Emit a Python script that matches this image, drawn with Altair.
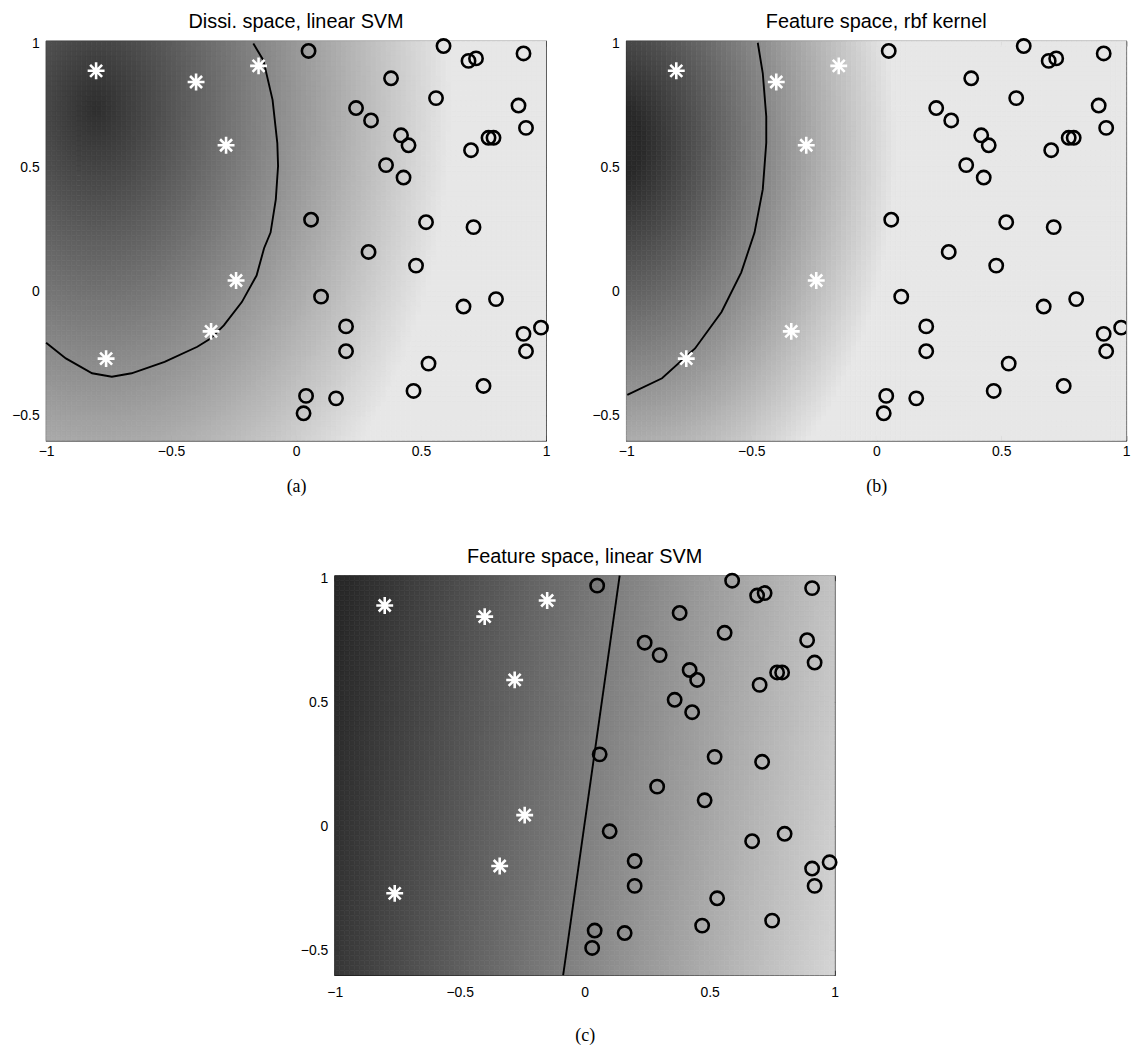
import altair as alt
import numpy as np
import pandas as pd

# ---------------- data ----------------
star_x = [-0.80, -0.40, -0.15, -0.28, -0.24, -0.34, -0.76]
star_y = [0.89, 0.845, 0.91, 0.59, 0.045, -0.16, -0.27]

circ_x = [0.05, 0.59, 0.69, 0.72, 0.91, 0.38, 0.56, 0.24, 0.30, 0.89, 0.92, 0.42, 0.45,
          0.77, 0.79, 0.70, 0.36, 0.43, 0.06, 0.52, 0.71, 0.29, 0.48, 0.10, 0.67, 0.80,
          0.20, 0.91, 0.98, 0.20, 0.92, 0.53, 0.75, 0.47, 0.04, 0.16, 0.03]
circ_y = [0.97, 0.99, 0.93, 0.94, 0.96, 0.86, 0.78, 0.74, 0.69, 0.75, 0.66, 0.63, 0.59,
          0.62, 0.62, 0.57, 0.51, 0.46, 0.29, 0.28, 0.26, 0.16, 0.105, -0.02, -0.06, -0.03,
          -0.14, -0.17, -0.145, -0.24, -0.24, -0.29, -0.38, -0.40, -0.42, -0.43, -0.49]

# decision boundaries
bnd_a_x = [-0.171, -0.131, -0.094, -0.075, -0.072, -0.081, -0.102, -0.128, -0.158, -0.217,
           -0.289, -0.342, -0.395, -0.526, -0.658, -0.737, -0.816, -0.921, -1.0]
bnd_a_y = [1.0, 0.933, 0.773, 0.599, 0.506, 0.372, 0.238, 0.175, 0.065, -0.042,
           -0.136, -0.189, -0.222, -0.283, -0.329, -0.343, -0.329, -0.269, -0.206]
bnd_b_x = [-0.474, -0.454, -0.44, -0.44, -0.454, -0.487, -0.54, -0.619, -0.725, -0.857, -0.996]
bnd_b_y = [1.003, 0.88, 0.706, 0.6, 0.412, 0.238, 0.078, -0.082, -0.229, -0.349, -0.416]
bnd_c_x = [0.14, -0.086]
bnd_c_y = [1.01, -0.6]

titles = ["Dissi. space, linear SVM", "Feature space, rbf kernel", "Feature space, linear SVM"]
captions = ["(a)", "(b)", "(c)"]

x_ticks = [-1, -0.5, 0, 0.5, 1]
y_ticks = [-0.5, 0, 0.5, 1]
X_DOM = [-1.0, 1.0]
Y_DOM = [-0.6, 1.01]

A_C = (-0.8, 0.74, 0.7, 0.18, 0.51)      # radial: centre x, centre y, y squeeze, grey0, slope
B_C = (-1.05, 0.6, 0.68, 0.08, 0.73)     # radial
C_C = (0.143, 0.007, 0.5, 0.31)          # linear ramp across x - 0.143*y
G_MIN, G_MAX = 0.16, 0.905

NX, NY = 100, 80


def grey_hex(g):
    v = int(round(float(np.clip(g, G_MIN, G_MAX)) * 255))
    return "#%02x%02x%02x" % (v, v, v)


def field_df(kind):
    xe = np.linspace(X_DOM[0], X_DOM[1], NX + 1)
    ye = np.linspace(Y_DOM[0], Y_DOM[1], NY + 1)
    rows = []
    for i in range(NX):
        xc = 0.5 * (xe[i] + xe[i + 1])
        for j in range(NY):
            yc = 0.5 * (ye[j] + ye[j + 1])
            if kind == "a":
                cx, cy, sy, g0, k = A_C
                g = g0 + k * np.hypot(xc - cx, sy * (yc - cy))
            elif kind == "b":
                cx, cy, sy, g0, k = B_C
                g = g0 + k * np.hypot(xc - cx, sy * (yc - cy))
            else:
                tilt, u0, g0, k = C_C
                g = g0 + k * ((xc - tilt * yc) - u0)
            rows.append((xe[i], xe[i + 1], ye[j], ye[j + 1], grey_hex(g)))
    return pd.DataFrame(rows, columns=["x0", "x1", "y0", "y1", "c"])


STAR = "M-1,0L1,0M0,-1L0,1M-0.71,-0.71L0.71,0.71M-0.71,0.71L0.71,-0.71"

xs = alt.Scale(domain=X_DOM, nice=False, zero=False)
ys = alt.Scale(domain=Y_DOM, nice=False, zero=False)

stars = pd.DataFrame({"x": star_x, "y": star_y})
circs = pd.DataFrame({"x": circ_x, "y": circ_y})

W, H = 503, 402
LAB = dict(format="~g", labelFlush=False)
INNER = dict(labels=False, title=None, offset=-5, tickSize=5, minExtent=0, maxExtent=5)


def panel(kind, title, caption, bx, by, clip_edge=False, lab_pad=4, cap_pad=19):
    bg = alt.Chart(field_df(kind)).mark_rect(strokeWidth=0.7).encode(
        x=alt.X("x0:Q", scale=xs, axis=alt.Axis(orient="bottom", values=x_ticks, title=caption,
                                                 offset=-5, tickSize=5, labelPadding=lab_pad,
                                                 titleFont="Liberation Serif", titleFontSize=18,
                                                 titleFontWeight="normal", titlePadding=cap_pad, **LAB)),
        x2="x1:Q",
        y=alt.Y("y0:Q", scale=ys, axis=alt.Axis(orient="left", values=y_ticks, title=None,
                                                 offset=-5, tickSize=5, labelPadding=7, **LAB)),
        y2="y1:Q",
        color=alt.Color("c:N", scale=None),
        stroke=alt.Stroke("c:N", scale=None),
    )
    bdf = pd.DataFrame({"x": bx, "y": by, "i": list(range(len(bx)))})
    line = alt.Chart(bdf).mark_line(color="black", strokeWidth=1.9).encode(
        x=alt.X("x:Q", scale=xs, axis=None),
        y=alt.Y("y:Q", scale=ys, axis=None),
        order="i:Q",
    )
    if clip_edge:
        main = circs[circs["x"] < 0.95]
        edge = circs[circs["x"] >= 0.95]
    else:
        main, edge = circs, None
    circ = alt.Chart(main).mark_point(shape="circle", filled=False, size=180, strokeWidth=2.6,
                                      color="black", opacity=1).encode(
        x=alt.X("x:Q", scale=xs, axis=alt.Axis(orient="top", values=x_ticks, **INNER)),
        y=alt.Y("y:Q", scale=ys, axis=alt.Axis(orient="right", values=y_ticks, **INNER)),
    )
    layers = [bg, line, circ]
    if edge is not None:
        layers.append(alt.Chart(edge).mark_point(shape="circle", filled=False, size=180, strokeWidth=2.6,
                                                 color="black", opacity=1, clip=True).encode(
            x=alt.X("x:Q", scale=xs, axis=None),
            y=alt.Y("y:Q", scale=ys, axis=None),
        ))
    star = alt.Chart(stars).mark_point(shape=STAR, filled=False, size=289, strokeWidth=2.6,
                                       color="white", opacity=1).encode(
        x=alt.X("x:Q", scale=xs, axis=None),
        y=alt.Y("y:Q", scale=ys, axis=None),
    )
    layers.append(star)
    return alt.layer(*layers).resolve_axis(x="independent", y="independent").properties(
        width=W, height=H, title=alt.TitleParams(title, fontSize=20, font="Liberation Sans",
                                                 fontWeight="normal", color="black", offset=2)
    )


pa = panel("a", titles[0], captions[0], bnd_a_x, bnd_a_y)
pb = panel("b", titles[1], captions[1], bnd_b_x, bnd_b_y, clip_edge=True)
pc = panel("c", titles[2], captions[2], bnd_c_x, bnd_c_y, lab_pad=10, cap_pad=28)

chart = alt.vconcat(
    alt.hconcat(pa, pb, spacing=36.8),
    pc,
    spacing=50,
    center=True,
).properties(
    padding={"left": 3, "top": 0, "right": 0, "bottom": 0}
).configure_view(
    stroke="black", strokeWidth=1.2
).configure_axis(
    labelFont="Liberation Sans", labelFontSize=14, labelColor="black",
    tickColor="black", tickWidth=1, grid=False, domain=False, titleColor="black"
)

chart.save("out.html", embed_options={"renderer": "svg", "actions": False})
